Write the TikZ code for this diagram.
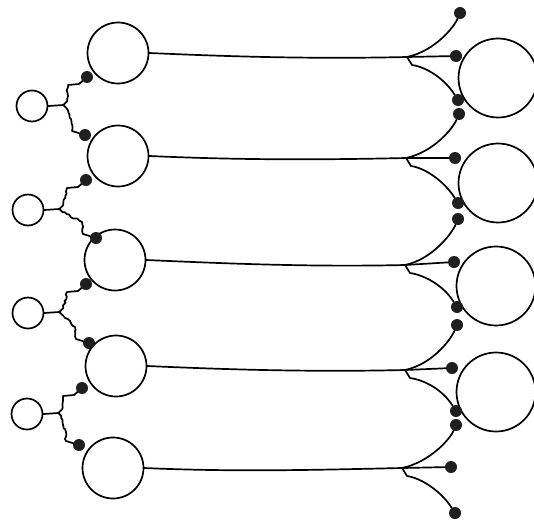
\documentclass[tikz,border=0pt]{standalone}
\usetikzlibrary{calc,decorations.pathmorphing}
\tikzset{
  cellbody/.style={draw, circle, line width=1.7pt, inner sep=0pt},
  sourcecell/.style={cellbody, minimum size=61pt},
  targetcell/.style={cellbody, minimum size=79pt},
  smallcell/.style={cellbody, minimum size=31pt},
  bouton/.style={circle, fill=black!88, inner sep=0pt, minimum size=12pt},
  axon/.style={line width=1.7pt, line cap=round, line join=round},
  twitchy/.style={decoration={random steps, segment length=2.4pt, amplitude=1pt}}
}
\pgfmathsetseed{7}

\begin{document}
\begin{tikzpicture}[x=1pt, y=-1pt]
  \useasboundingbox (0,0) rectangle (534,522);

  % source cells on the left, one axon each
  \foreach \i/\cx/\cy/\jx/\jy in {1/118/53/407/57, 2/118/156/406/158, 3/115/260/405/265, 4/116/366/405/370, 5/113/468/402/468}{
    \node[sourcecell] (src\i) at (\cx,\cy) {};
    \coordinate (rj\i) at (\jx,\jy);
  }

  % target cells on the right
  \foreach \i/\cx/\cy in {1/498/78, 2/498/183, 3/496/286, 4/496/392}{
    \node[targetcell] (tgt\i) at (\cx,\cy) {};
  }

  % right hand boutons: upper, middle, lower
  \foreach \i/\ux/\uy/\mx/\my/\lx/\ly in {1/460/13/456/56/458/100, 2/459/114/455/158/458/203, 3/458/219/454/262/457/307, 4/457/325/452/368/456/411, 5/456/425/451/467/455/513}{
    \node[bouton] (ru\i) at (\ux,\uy) {};
    \node[bouton] (rm\i) at (\mx,\my) {};
    \node[bouton] (rl\i) at (\lx,\ly) {};
  }

  % small cells with their two twitchy branches
  \foreach \i/\sx/\sy/\ux/\uy/\lx/\ly in {1/32/106/87/77/85/135, 2/28/210/86/180/96/238, 3/28/313/86/284/89/343, 4/27/414/82/388/79/445}{
    \node[smallcell] (sm\i) at (\sx,\sy) {};
    \coordinate (lj\i) at ($(sm\i.east)+(15,-1)$);
    \node[bouton] (lu\i) at (\ux,\uy) {};
    \node[bouton] (ll\i) at (\lx,\ly) {};
  }

  % axons
  \foreach \i in {1,...,5}{
    \draw[axon] (src\i.east) .. controls +(90,4) and +(-90,2) .. (rj\i);
    \draw[axon] (rj\i) .. controls +(28,-6) and +(-6,14) .. (ru\i);
    \draw[axon] (rj\i) -- (rm\i);
    \draw[axon] (rj\i) -- +(5,8) .. controls +(14,2) and +(-14,-22) .. (rl\i);
  }

  % short stems and zigzag dendrites
  \foreach \i in {1,...,4}{
    \draw[axon] (sm\i.east) -- (lj\i);
    \draw[axon, twitchy] (lj\i) -- +(4,-4) decorate{ -- ($(lu\i)+(-19,8)$)} -- ($(lu\i)+(-8,7)$) -- (lu\i);
    \draw[axon, twitchy] (lj\i) -- +(3,3) decorate{ -- ($(ll\i)+(-14,-16)$) -- ($(ll\i)+(-13,-4)$)} -- (ll\i);
  }
\end{tikzpicture}
\end{document}
